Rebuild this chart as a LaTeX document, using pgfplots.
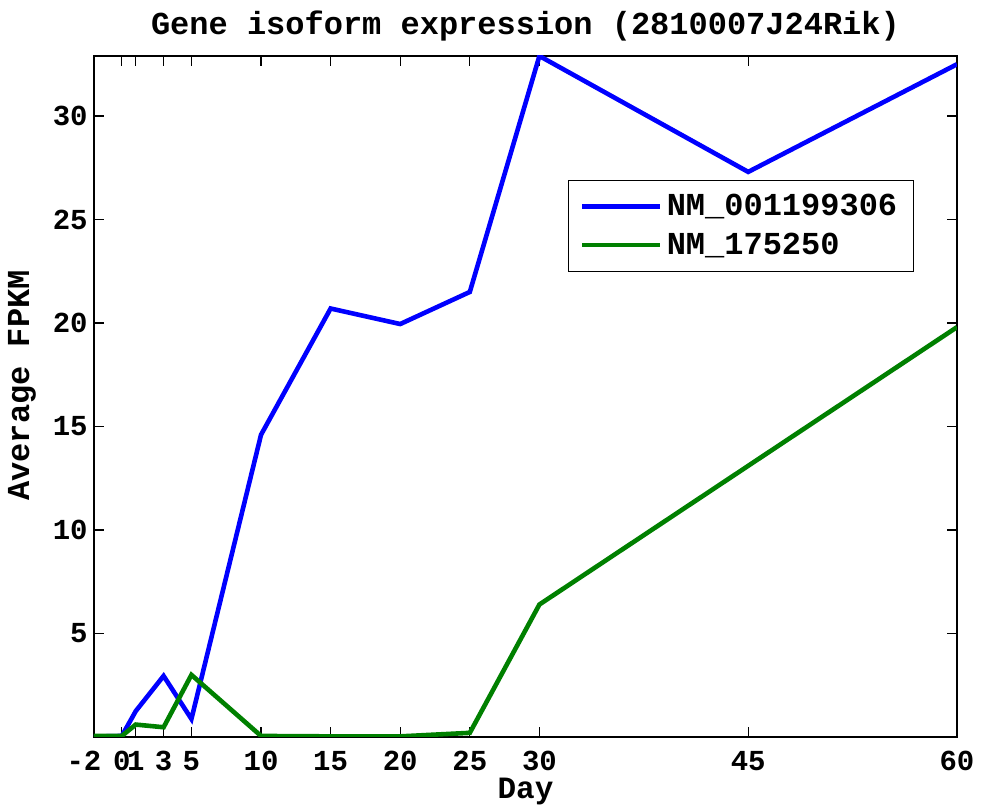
\documentclass[border=0pt]{standalone}
\usepackage{fontspec}
\setmainfont{Liberation Mono}
\usepackage{pgfplots}
\pgfplotsset{compat=1.18}
\definecolor{mblue}{RGB}{0,0,255}
\definecolor{mgreen}{RGB}{0,128,0}
\begin{document}
\begin{tikzpicture}
\useasboundingbox (-47pt,-37.5pt) rectangle (443.5pt,368.5pt);
\begin{axis}[
  scale only axis,
  width=431.5pt, height=340.5pt,
  xmin=-2, xmax=60, ymin=0, ymax=32.9,
  xtick={-2,0,1,3,5,10,15,20,25,30,45,60},
  xticklabels={\hspace*{-10pt}-2,0,1,3,5,10,15,20,25,30,45,60},
  ytick={5,10,15,20,25,30},
  yticklabels={5,10,15,20,25,30},
  tick align=inside,
  major tick length=5pt,
  tick style={black, line width=0.6pt},
  axis line style={line width=0.7pt},
  tick label style={font=\bfseries\fontsize{14.5}{14.5}\selectfont},
  xticklabel style={inner sep=1pt, yshift=-6pt},
  yticklabel style={inner sep=2pt, xshift=-1pt},
  title={Gene isoform expression (2810007J24Rik)},
  title style={font=\bfseries\fontsize{16}{16}\selectfont, yshift=-2pt},
  xlabel={Day},
  ylabel={Average FPKM},
  xlabel style={font=\bfseries\fontsize{15.5}{15.5}\selectfont, at={(axis description cs:0.5,0)}, anchor=center, yshift=-27.5pt},
  ylabel style={font=\bfseries\fontsize{16}{16}\selectfont, at={(axis description cs:0,0.5)}, anchor=center, yshift=36pt, xshift=5.5pt},
  legend style={at={(0.95,0.818)}, anchor=north east, draw=black, line width=0.6pt,
    font=\bfseries\fontsize{16}{16}\selectfont, row sep=3pt, inner xsep=6pt, inner ysep=5pt},
  legend image code/.code={\draw[#1] (0pt,0pt) -- (39pt,0pt);},
  legend cell align=left,
]
\addplot[mblue, line width=2.3pt] coordinates {
  (-2,0.02) (0,0.05) (1,1.25) (3,2.95) (5,0.87) (10,14.6) (15,20.7) (20,19.95) (25,21.5) (30,32.9) (45,27.3) (60,32.5)
};
\addlegendentry{NM\_001199306}
\addplot[mgreen, line width=2.3pt] coordinates {
  (-2,0.05) (0,0.05) (1,0.6) (3,0.47) (5,3.0) (10,0.05) (15,0.03) (20,0.03) (25,0.2) (30,6.4) (45,13.1) (60,19.8)
};
\addlegendentry{NM\_175250}
\end{axis}
\end{tikzpicture}
\end{document}
